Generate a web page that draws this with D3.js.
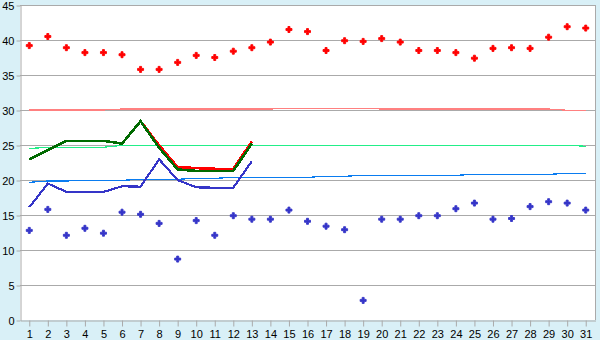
<!DOCTYPE html>
<html>
<head>
<meta charset="utf-8">
<script src="https://cdn.jsdelivr.net/npm/d3@7"></script>
<style>
  body { margin: 0; background: #d9f0f7; }
  svg { display: block; font-family: "Liberation Sans", Arial, sans-serif; }
  .tick text { font-size: 11px; fill: #000; }
</style>
</head>
<body>
<script>
// Days of the month (categories)
var days = d3.range(1, 32);

// Y axis tick values
var yTicks = [0, 5, 10, 15, 20, 25, 30, 35, 40, 45];

// Daily scattered values (upper and lower)
var highPoints = [39.2, 40.5, 38.9, 38.2, 38.2, 37.9, 35.8, 35.8, 36.8, 37.8,
  37.5, 38.4, 38.9, 39.7, 41.5, 41.2, 38.5, 39.9, 39.8, 40.2,
  39.7, 38.5, 38.5, 38.2, 37.4, 38.8, 38.9, 38.8, 40.4, 41.9, 41.7];
var lowPoints = [12.8, 15.8, 12.1, 13.1, 12.4, 15.4, 15.1, 13.8, 8.7, 14.2,
  12.1, 14.9, 14.4, 14.4, 15.7, 14.1, 13.4, 12.9, 2.8, 14.4,
  14.4, 14.9, 14.9, 15.9, 16.7, 14.4, 14.5, 16.2, 16.9, 16.7, 15.7];

// Lines for the first 13 days
var redLine = [22.95, 24.3, 25.6, 25.6, 25.6, 25.2, 28.4, 24.95, 21.85, 21.7, 21.6, 21.6, 25.5];
var greenLine = [22.95, 24.3, 25.6, 25.6, 25.6, 25.2, 28.4, 24.6, 21.5, 21.3, 21.3, 21.3, 25.2];
var blueLine = [16.1, 19.5, 18.3, 18.3, 18.3, 19.1, 19.05, 22.95, 20.0, 18.95, 18.9, 18.9, 22.7];

// Reference lines (nearly flat across the month)
var pinkRef = [30.0, 30.0, 30.0, 30.0, 30.0, 30.14, 30.14, 30.14, 30.14, 30.14,
  30.14, 30.14, 30.14, 30.14, 30.25, 30.25, 30.25, 30.25, 30.25, 30.14,
  30.14, 30.14, 30.14, 30.14, 30.14, 30.14, 30.14, 30.14, 30.14, 29.96, 29.96];
var greenRef = [24.5, 24.67, 24.67, 24.67, 24.67, 24.95, 24.95, 24.95, 24.95, 24.95,
  24.95, 24.95, 24.95, 24.95, 24.95, 24.95, 24.95, 24.95, 24.95, 24.95,
  24.95, 24.95, 24.95, 24.95, 24.95, 24.95, 24.95, 24.95, 24.95, 24.95, 24.82];
var blueRef = [19.67, 19.86, 19.86, 19.95, 19.95, 19.95, 20.1, 20.1, 20.1, 20.24,
  20.24, 20.38, 20.38, 20.38, 20.38, 20.38, 20.53, 20.53, 20.67, 20.67,
  20.67, 20.67, 20.67, 20.67, 20.81, 20.81, 20.81, 20.81, 20.81, 20.95, 20.95];

// SVG area dimensions
var svgWidth = 600;
var svgHeight = 340;

// Plot area edges
var plotLeft = 20, plotRight = 595, plotTop = 5, plotBottom = 320;

var svg = d3.select("body")
  .append("svg")
  .attr("width", svgWidth)
  .attr("height", svgHeight);

// Scales
var xBand = d3.scaleBand().domain(days).range([plotLeft, plotRight]);
var yLinearScale = d3.scaleLinear().domain([0, 45]).range([plotBottom, plotTop]);

function xMid(d) {
  return xBand(d) + xBand.bandwidth() / 2;
}

// White plot area
svg.append("rect")
  .attr("x", plotLeft)
  .attr("y", plotTop)
  .attr("width", plotRight - plotLeft)
  .attr("height", plotBottom - plotTop)
  .attr("fill", "#fff");

// Horizontal grid lines
svg.append("g")
  .selectAll("line")
  .data(yTicks.slice(1))
  .enter()
  .append("line")
  .attr("x1", plotLeft)
  .attr("x2", plotRight)
  .attr("y1", function (d) { return Math.round(yLinearScale(d)) + 0.5; })
  .attr("y2", function (d) { return Math.round(yLinearScale(d)) + 0.5; })
  .attr("stroke", "#aaaaaa")
  .attr("stroke-width", 1);

// Right border
svg.append("line")
  .attr("x1", plotRight + 0.5).attr("x2", plotRight + 0.5)
  .attr("y1", plotTop).attr("y2", plotBottom)
  .attr("stroke", "#aaaaaa");

// Left axis
var leftAxis = d3.axisLeft(yLinearScale)
  .tickValues(yTicks)
  .tickSize(4)
  .tickSizeOuter(0)
  .tickPadding(2);

var yAxisGroup = svg.append("g")
  .attr("transform", "translate(" + (plotLeft + 0.5) + ", 0.5)")
  .call(leftAxis);

// Bottom axis, ticks at the day centres
var bottomAxis = d3.axisBottom(xBand)
  .tickSize(6)
  .tickSizeOuter(0)
  .tickPadding(4);

var xAxisGroup = svg.append("g")
  .attr("transform", "translate(0.5, " + (plotBottom + 0.5) + ")")
  .call(bottomAxis);

[yAxisGroup, xAxisGroup].forEach(function (g) {
  g.selectAll("path, line").attr("stroke", "#aaaaaa");
  g.attr("font-family", null).attr("font-size", null);
});

// Line generator
function lineFor(values) {
  return d3.line()
    .x(function (d, i) { return xMid(days[i]); })
    .y(function (d) { return yLinearScale(d); })(values);
}

var lineGroup = svg.append("g").attr("fill", "none").attr("shape-rendering", "crispEdges");

// Reference lines
lineGroup.append("path").attr("d", lineFor(pinkRef)).attr("stroke", "#ff8080").attr("stroke-width", 1.2);
lineGroup.append("path").attr("d", lineFor(greenRef)).attr("stroke", "#22ee88").attr("stroke-width", 1.2);
lineGroup.append("path").attr("d", lineFor(blueRef)).attr("stroke", "#0a7cf0").attr("stroke-width", 1.2);

// Main lines
lineGroup.append("path").attr("d", lineFor(redLine)).attr("stroke", "#ff0000").attr("stroke-width", 2.6);
lineGroup.append("path").attr("d", lineFor(greenLine)).attr("stroke", "#006a00").attr("stroke-width", 2.6);
lineGroup.append("path").attr("d", lineFor(blueLine)).attr("stroke", "#3535c8").attr("stroke-width", 2.2);

// Scatter markers: a small plus with a thick core
var marker = d3.symbol().type(d3.symbolCross).size(20);

function drawPoints(values, colour) {
  svg.append("g")
    .selectAll("path")
    .data(values)
    .enter()
    .append("path")
    .attr("d", marker)
    .attr("transform", function (d, i) {
      return "translate(" + xMid(days[i]) + "," + yLinearScale(d) + ")";
    })
    .attr("fill", colour)
    .attr("stroke", colour)
    .attr("stroke-width", 0.9);
}

drawPoints(highPoints, "#ff0000");
drawPoints(lowPoints, "#3535c8");
</script>
</body>
</html>
